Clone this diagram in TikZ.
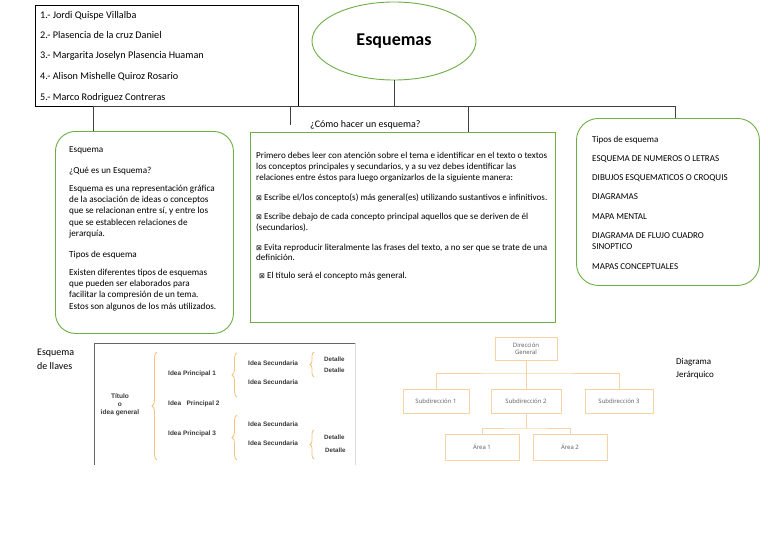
\documentclass[tikz,border=0pt]{standalone}
\usepackage{fontspec}
\setmainfont{Carlito}
\newfontfamily\hfont{Open Sans}
\newfontfamily\afont{Liberation Sans}
\newfontfamily\djv{DejaVu Sans}
\usetikzlibrary{shapes.geometric,decorations.pathreplacing}
\definecolor{grn}{HTML}{70AD47}
\definecolor{org}{HTML}{F6C27E}
\definecolor{borg}{HTML}{F5D3A5}
\definecolor{htxt}{HTML}{5A5A5A}
\definecolor{btxt}{HTML}{3A3A3A}
\newcommand{\bx}{{\djv\fontsize{7}{7}\selectfont ⊠}}
\begin{document}
\begin{tikzpicture}[x=1pt,y=-1pt,
  conn/.style={draw=black!75, line width=0.6pt},
  txt/.style={inner sep=0pt, anchor=base west, font=\fontsize{9.2}{10}\selectfont},
  mtxt/.style={inner sep=0pt, anchor=base west, font=\fontsize{9.1}{10}\selectfont},
  rtxt/.style={inner sep=0pt, anchor=base west, font=\fontsize{9}{10}\selectfont},
  ntxt/.style={inner sep=0pt, anchor=base west, font=\fontsize{10.2}{12}\selectfont},
  gbox/.style={draw=grn, line width=0.9pt, anchor=north west, inner sep=0pt},
  hbox/.style={draw=borg, line width=1pt, inner sep=0pt, align=center, font=\hfont\fontsize{6}{7.5}\selectfont, text=htxt},
  hconn/.style={draw=borg, line width=1pt},
  btx/.style={inner sep=0pt, anchor=west, font=\afont\bfseries\fontsize{6.5}{7}\selectfont, text=btxt},
  dtx/.style={inner sep=0pt, anchor=west, font=\afont\bfseries\fontsize{6.2}{6.5}\selectfont, text=btxt},
  brc/.style={draw=org, line width=0.8pt, decorate, decoration={brace, amplitude=5pt}}
]
\useasboundingbox (0,0) rectangle (768,543);
\fill[white] (0,0) rectangle (768,543);

% names box
\node[draw=black, line width=0.8pt, anchor=north west, minimum width=263pt, minimum height=101pt, inner sep=0pt] (names) at (35,5) {};
\node[ntxt] (n1) at (40,18.5) {1.- Jordi Quispe Villalba};
\node[ntxt] (n2) at (40,38.5) {2.- Plasencia de la cruz Daniel};
\node[ntxt] (n3) at (40,59) {3.- Margarita Joselyn Plasencia Huaman};
\node[ntxt] (n4) at (40,80) {4.- Alison Mishelle Quiroz Rosario};
\node[ntxt] (n5) at (40,100.5) {5.- Marco Rodriguez Contreras};

% title ellipse
\node[ellipse, draw=grn, line width=0.9pt, minimum width=164pt, minimum height=78pt, font=\bfseries\fontsize{18}{20}\selectfont] (title) at (394,41) {Esquemas};

% boxes
\node[gbox, rounded corners=20pt, minimum width=178pt, minimum height=202pt] (lbox) at (55,131) {};
\node[gbox, minimum width=305pt, minimum height=190pt] (mbox) at (250,132) {};
\node[gbox, rounded corners=22pt, minimum width=183pt, minimum height=167pt] (rbox) at (576,118) {};

% connectors
\coordinate (hL) at (93,106);
\coordinate (hR) at (675,106);
\coordinate (hA) at (290,106);
\coordinate (hB) at (468,106);
\coordinate (cA) at (290,125);
\draw[conn] (hL) -- (hR);
\draw[conn] (title.south) -- (title.south |- hL);
\draw[conn] (hL) -- (hL |- lbox.north);
\draw[conn] (hA) -- (cA);
\draw[conn] (hB) -- (hB |- mbox.north);
\draw[conn] (hR) -- (hR |- rbox.north);

\node[inner sep=0pt, anchor=base west, font=\fontsize{10}{12}\selectfont] (how) at (310,127.5) {¿Cómo hacer un esquema?};

% left box text
\node[txt] (l1) at (69,152) {Esquema};
\node[txt] (l2) at (69,173) {¿Qué es un Esquema?};
\node[txt] (l3) at (69,191) {Esquema es una representación gráfica};
\node[txt] (l4) at (69,202.3) {de la asociación de ideas o conceptos};
\node[txt] (l5) at (69,213.6) {que se relacionan entre sí, y entre los};
\node[txt] (l6) at (69,225) {que se establecen relaciones de};
\node[txt] (l7) at (69,236.3) {jerarquía.};
\node[txt] (l8) at (69,257) {Tipos de esquema};
\node[txt] (l9) at (69,275) {Existen diferentes tipos de esquemas};
\node[txt] (l10) at (69,286.3) {que pueden ser elaborados para};
\node[txt] (l11) at (69,297.6) {facilitar la compresión de un tema.};
\node[txt] (l12) at (69,309) {Estos son algunos de los más utilizados.};

% middle box text
\node[mtxt] (m1) at (256,158) {Primero debes leer con atención sobre el tema e identificar en el texto o textos};
\node[mtxt] (m2) at (256,169) {los conceptos principales y secundarios, y a su vez debes identificar las};
\node[mtxt] (m3) at (256,180) {relaciones entre éstos para luego organizarlos de la siguiente manera:};
\node[mtxt] (m4) at (256,200) {\bx\ Escribe el/los concepto(s) más general(es) utilizando sustantivos e infinitivos.};
\node[mtxt] (m5) at (256,219) {\bx\ Escribe debajo de cada concepto principal aquellos que se deriven de él};
\node[mtxt] (m6) at (256,230) {(secundarios).};
\node[mtxt] (m7) at (256,250) {\bx\ Evita reproducir literalmente las frases del texto, a no ser que se trate de una};
\node[mtxt] (m8) at (256,260.5) {definición.};
\node[mtxt] (m9) at (259,278) {\bx\ El título será el concepto más general.};

% right box text
\node[rtxt] (r1) at (592,142) {Tipos de esquema};
\node[rtxt] (r2) at (592,161) {ESQUEMA DE NUMEROS O LETRAS};
\node[rtxt] (r3) at (592,180) {DIBUJOS ESQUEMATICOS O CROQUIS};
\node[rtxt] (r4) at (592,199) {DIAGRAMAS};
\node[rtxt] (r5) at (592,219) {MAPA MENTAL};
\node[rtxt] (r6) at (592,238) {DIAGRAMA DE FLUJO CUADRO};
\node[rtxt] (r7) at (592,249) {SINOPTICO};
\node[rtxt] (r8) at (592,269) {MAPAS CONCEPTUALES};

% Esquema de llaves
\node[inner sep=0pt, anchor=base west, align=left, font=\fontsize{10}{14}\selectfont] (llav) at (37,369) {Esquema\\de llaves};
\draw[black!60, line width=0.6pt] (94,465) -- (94,343) -- (355,343);
\draw[black!15, line width=0.6pt] (355,343) -- (355,465);
\node[inner sep=0pt, align=center, font=\afont\bfseries\fontsize{6.6}{8}\selectfont, text=btxt] (tit) at (120,405) {Título\\o\\idea general};
\draw[brc] (157,460) -- (157,352);
\node[btx] (ip1) at (168,374) {Idea Principal 1};
\node[btx] (ip2) at (168,404) {Idea\ \ \ Principal 2};
\node[btx] (ip3) at (168,434) {Idea Principal 3};
\draw[brc] (237,397) -- (237,353);
\draw[brc] (237,460) -- (237,415);
\node[btx] (is1) at (248,363) {Idea Secundaria};
\node[btx] (is2) at (248,382) {Idea Secundaria};
\node[btx] (is3) at (248,424) {Idea Secundaria};
\node[btx] (is4) at (248,443) {Idea Secundaria};
\draw[brc, decoration={brace, amplitude=4pt}] (314,377) -- (314,352);
\draw[brc, decoration={brace, amplitude=4pt}] (314,459) -- (314,430);
\node[dtx] (d1) at (324,359) {Detalle};
\node[dtx] (d2) at (324,370) {Detalle};
\node[dtx] (d3) at (324,437) {Detalle};
\node[dtx] (d4) at (325,450) {Detalle};

% Diagrama jerarquico
\node[hbox, minimum width=62pt, minimum height=23pt] (dg) at (526,348.5) {Dirección\\General};
\node[hbox, minimum width=66pt, minimum height=24pt] (s1) at (436,401) {Subdirección 1};
\node[hbox, minimum width=70pt, minimum height=24pt] (s2) at (526,401) {Subdirección 2};
\node[hbox, minimum width=68pt, minimum height=24pt] (s3) at (619,401) {Subdirección 3};
\node[hbox, minimum width=74pt, minimum height=26pt] (a1) at (482,447) {Área 1};
\node[hbox, minimum width=74pt, minimum height=26pt] (a2) at (570,447) {Área 2};
\coordinate (j1) at (526,373);
\coordinate (j2) at (526,428);
\draw[hconn] (dg.south) -- (j1);
\draw[hconn] (s1.north) |- (j1) -| (s3.north);
\draw[hconn] (j1) -- (s2.north);
\draw[hconn] (s2.south) -- (j2);
\draw[hconn] (a1.north) |- (j2) -| (a2.north);

\node[inner sep=0pt, anchor=base west, align=left, font=\fontsize{9}{12.5}\selectfont] (djer) at (676,377) {Diagrama\\Jerárquico};
\end{tikzpicture}
\end{document}
